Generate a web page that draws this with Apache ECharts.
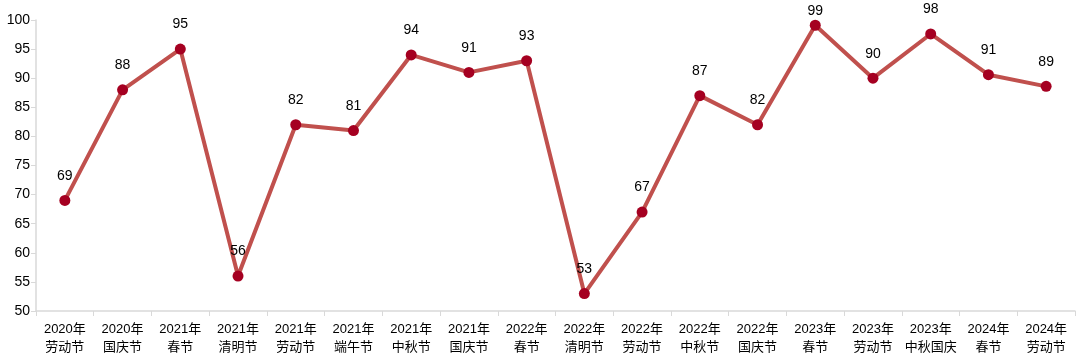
<!DOCTYPE html>
<html><head><meta charset="utf-8">
<script src="https://cdn.jsdelivr.net/npm/echarts@6/dist/echarts.min.js"></script>
<style>html,body{margin:0;padding:0;background:#fff}#c{width:1080px;height:356px}</style>
</head><body><div id="c"></div>
<script>
const categories = ['2020年\n劳动节','2020年\n国庆节','2021年\n春节','2021年\n清明节','2021年\n劳动节','2021年\n端午节','2021年\n中秋节','2021年\n国庆节','2022年\n春节','2022年\n清明节','2022年\n劳动节','2022年\n中秋节','2022年\n国庆节','2023年\n春节','2023年\n劳动节','2023年\n中秋国庆','2024年\n春节','2024年\n劳动节'];
const values = [69, 88, 95, 56, 82, 81, 94, 91, 93, 53, 67, 87, 82, 99.1, 90, 97.6, 90.6, 88.6];
const chart = echarts.init(document.getElementById('c'));
chart.setOption({
  animation: false,
  grid: {left: 36, right: 5, top: 20, bottom: 45},
  xAxis: {
    type: 'category', data: categories, boundaryGap: true,
    axisLine: {lineStyle: {color: '#d9d9d9', width: 1.5}},
    axisTick: {show: true, alignWithLabel: false, length: 5, lineStyle: {color: '#d9d9d9'}},
    axisLabel: {interval: 0, color: '#000', fontSize: 13, lineHeight: 18, margin: 9,
      fontFamily: '"Liberation Sans", "Noto Sans CJK SC", sans-serif'}
  },
  yAxis: {
    type: 'value', min: 50, max: 100, interval: 5,
    splitLine: {show: false},
    axisLine: {show: true, lineStyle: {color: '#d9d9d9', width: 1.5}},
    axisTick: {show: true, length: 5, lineStyle: {color: '#d9d9d9'}},
    axisLabel: {color: '#000', fontSize: 14, margin: 6, fontFamily: '"Liberation Sans", sans-serif'}
  },
  series: [{
    type: 'line',
    data: values.map(v => v > 98.5 ? {value: v, label: {distance: 2}} : v),
    symbol: 'circle', symbolSize: 11,
    lineStyle: {color: '#C0504D', width: 4},
    itemStyle: {color: '#A50021'},
    label: {show: true, position: 'top', distance: 12, color: '#000', fontSize: 14,
      fontFamily: '"Liberation Sans", sans-serif',
      formatter: p => Math.round(p.value)}
  }]
});
</script></body></html>
